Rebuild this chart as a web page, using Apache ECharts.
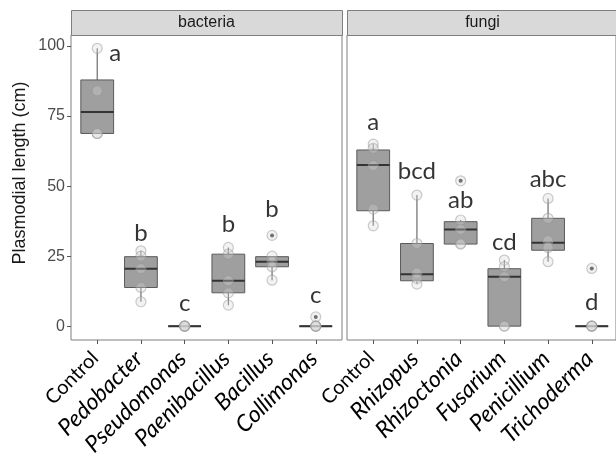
<!DOCTYPE html>
<html><head><meta charset="utf-8">
<script src="https://cdn.jsdelivr.net/npm/echarts@6/dist/echarts.min.js"></script>
<style>html,body{margin:0;padding:0;background:#fff}#c{width:616px;height:465px}</style>
</head><body><div id="c"></div>
<script>
// ---- data ----
const panelNames = ['bacteria', 'fungi'];
const bacteriaCats = ['Control','Pedobacter','Pseudomonas','Paenibacillus','Bacillus','Collimonas'];
const fungiCats = ['Control','Rhizopus','Rhizoctonia','Fusarium','Penicillium','Trichoderma'];
// box stats: [min, Q1, median, Q3, max]
const bacteriaBox = [
  [68.8, 68.8, 76.5, 87.9, 99.2],
  [8.7, 13.8, 20.5, 24.8, 26.9],
  [0, 0, 0, 0, 0],
  [7.5, 11.9, 16.2, 25.7, 28.1],
  [16.4, 21.2, 23.0, 24.8, 25.0],
  [0, 0, 0, 0, 0]
];
const fungiBox = [
  [35.8, 41.2, 57.5, 62.9, 65.0],
  [15.0, 16.2, 18.5, 29.5, 46.8],
  [29.3, 29.3, 34.5, 37.3, 37.9],
  [0, 0, 17.6, 20.5, 23.6],
  [23.0, 27.1, 29.8, 38.5, 45.6],
  [0, 0, 0, 0, 0]
];
// outliers: [category index, value]
const bacteriaOutliers = [[4, 32.4], [5, 3.3]];
const fungiOutliers = [[2, 51.9], [5, 20.6]];
// individual observations per category
const bacteriaPoints = [
  [99.2, 84.0, 68.8, 68.8],
  [26.9, 25.0, 20.5, 13.8, 8.7],
  [0, 0, 0, 0, 0],
  [28.1, 25.7, 16.2, 11.9, 7.5],
  [32.4, 25.0, 23.0, 21.2, 16.4],
  [3.3, 0, 0, 0, 0]
];
const fungiPoints = [
  [65.0, 63.5, 57.3, 41.8, 35.8],
  [46.8, 29.5, 19.0, 17.0, 15.0],
  [51.9, 37.9, 34.5, 29.5, 29.3],
  [23.6, 21.2, 17.6, 0, 0],
  [45.6, 38.5, 30.5, 28.1, 23.0],
  [20.6, 0, 0, 0, 0]
];
// significance letters and the value of their baseline
const bacteriaLetters = ['a','b','c','b','b','c'];
const bacteriaLetterY = [95.0, 30.6, 5.7, 33.7, 39.3, 8.7];
const fungiLetters = ['a','bcd','ab','cd','abc','d'];
const fungiLetterY = [70.2, 52.7, 42.4, 27.4, 50.0, 6.2];
const yTicks = [0, 25, 50, 75, 100];
const yTitle = 'Plasmodial length (cm)';

// ---- layout ----
const Y_MIN = -4.95, Y_MAX = 103.95;
const PANEL_TOP = 35, PANEL_H = 305, PANEL_W = 271;
const PANEL_LEFT = [71, 347];
const STEP = PANEL_W / 6.2;          // ggplot discrete expansion 0.6
const INNER_W = STEP * 6;
const INNER_OFF = STEP * 0.6 - STEP * 0.5;

const chart = echarts.init(document.getElementById('c'), null, {renderer: 'canvas'});

function renderBox(params, api) {
  const x = api.value(0);
  const vmin = api.value(1), q1 = api.value(2), med = api.value(3), q3 = api.value(4), vmax = api.value(5);
  const bw = api.size([1, 0])[0] * 0.75;
  const pMin = api.coord([x, vmin]), pQ1 = api.coord([x, q1]), pMed = api.coord([x, med]);
  const pQ3 = api.coord([x, q3]), pMax = api.coord([x, vmax]);
  const cx = pMed[0];
  const lineStyle = {stroke: '#6b6b6b', lineWidth: 1.2};
  return {
    type: 'group',
    children: [
      {type: 'line', shape: {x1: cx, y1: pMin[1], x2: cx, y2: pQ1[1]}, style: lineStyle},
      {type: 'line', shape: {x1: cx, y1: pQ3[1], x2: cx, y2: pMax[1]}, style: lineStyle},
      {type: 'rect', shape: {x: cx - bw / 2, y: pQ3[1], width: bw, height: pQ1[1] - pQ3[1]},
        style: {fill: '#9f9f9f', stroke: '#5a5a5a', lineWidth: 1}},
      {type: 'line', shape: {x1: cx - bw / 2, y1: pMed[1], x2: cx + bw / 2, y2: pMed[1]},
        style: {stroke: '#333333', lineWidth: 2}}
    ]
  };
}

function pointData(points) {
  const out = [];
  points.forEach((arr, i) => arr.forEach(v => out.push([i, v])));
  return out;
}

const labelFont = 'Lato, "Open Sans", sans-serif';

function panelSeries(idx, box, outliers, points, letters, letterY) {
  return [
    {
      type: 'custom', xAxisIndex: idx, yAxisIndex: idx, z: 2,
      renderItem: renderBox,
      encode: {x: 0, y: [1, 2, 3, 4, 5]},
      data: box.map((b, i) => [i].concat(b))
    },
    {
      type: 'scatter', xAxisIndex: idx, yAxisIndex: idx, z: 3,
      symbol: 'circle', symbolSize: 4, itemStyle: {color: '#111'},
      data: outliers
    },
    {
      type: 'scatter', xAxisIndex: idx, yAxisIndex: idx, z: 4,
      symbol: 'circle', symbolSize: 10,
      itemStyle: {color: 'rgba(215,215,215,0.4)', borderColor: 'rgba(150,150,150,0.6)', borderWidth: 1.2},
      data: pointData(points)
    },
    {
      type: 'scatter', xAxisIndex: idx, yAxisIndex: idx, z: 5,
      symbolSize: 0, silent: true,
      label: {
        show: true, position: 'inside', verticalAlign: 'bottom', align: 'center',
        fontFamily: labelFont, fontSize: 24, color: '#000', lineHeight: 24,
        offset: [0, 5],
        formatter: p => letters[p.dataIndex]
      },
      data: letters.map((l, i) => {
        const d = {value: [i, letterY[i]]};
        if (idx === 0 && i === 0) d.label = {offset: [18, 5]};
        return d;
      })
    }
  ];
}

function catAxis(gridIndex, cats) {
  return {
    type: 'category', gridIndex, data: cats, boundaryGap: true,
    axisLine: {show: false, onZero: false},
    axisTick: {show: true, alignWithLabel: true, length: 4, lineStyle: {color: '#555'}},
    splitLine: {show: false},
    axisLabel: {
      rotate: 45, margin: 17, interval: 0, padding: [0, 0, 6, 0],
      fontFamily: labelFont, fontSize: 20, color: '#000',
      formatter: v => v === 'Control' ? '{n|' + v + '}' : '{i|' + v + '}',
      rich: {
        n: {fontFamily: labelFont, fontSize: 20, color: '#000'},
        i: {fontStyle: 'italic', fontFamily: labelFont, fontSize: 23, color: '#000'}
      }
    }
  };
}

const hiddenY = gi => ({type: 'value', gridIndex: gi, min: Y_MIN, max: Y_MAX, show: false, splitLine: {show: false}});
const hiddenX = gi => ({type: 'value', gridIndex: gi, min: 0, max: 1, show: false, splitLine: {show: false}});

const graphics = [];
panelNames.forEach((name, i) => {
  graphics.push({
    type: 'rect', left: PANEL_LEFT[i], top: 10, z: 10,
    shape: {width: PANEL_W, height: 25},
    style: {fill: '#d9d9d9', stroke: '#7f7f7f', lineWidth: 1}
  });
  graphics.push({
    type: 'text', x: PANEL_LEFT[i] + PANEL_W / 2, y: 22.5, z: 11,
    style: {text: name, fill: '#1a1a1a', font: '16px "Liberation Sans", Arial, sans-serif',
      textAlign: 'center', textVerticalAlign: 'middle'}
  });
});
graphics.push({
  type: 'text', x: 20, y: 173, rotation: Math.PI / 2, z: 11,
  style: {text: yTitle, fill: '#1a1a1a', font: '18px "Liberation Sans", Arial, sans-serif',
    textAlign: 'center', textVerticalAlign: 'middle'}
});

chart.setOption({
  animation: false,
  backgroundColor: '#fff',
  grid: [
    {left: PANEL_LEFT[0] + INNER_OFF, top: PANEL_TOP, width: INNER_W, height: PANEL_H},
    {left: PANEL_LEFT[1] + INNER_OFF, top: PANEL_TOP, width: INNER_W, height: PANEL_H},
    {left: PANEL_LEFT[0], top: PANEL_TOP, width: PANEL_W, height: PANEL_H, show: true,
      borderColor: '#7f7f7f', borderWidth: 1, backgroundColor: '#fff', z: 0},
    {left: PANEL_LEFT[1], top: PANEL_TOP, width: PANEL_W, height: PANEL_H, show: true,
      borderColor: '#7f7f7f', borderWidth: 1, backgroundColor: '#fff', z: 0}
  ],
  xAxis: [catAxis(0, bacteriaCats), catAxis(1, fungiCats), hiddenX(2), hiddenX(3)],
  yAxis: [
    hiddenY(0), hiddenY(1),
    {
      type: 'value', gridIndex: 2, min: Y_MIN, max: Y_MAX,
      axisLine: {show: false},
      axisTick: {show: true, length: 4, lineStyle: {color: '#555'}, customValues: yTicks},
      axisLabel: {customValues: yTicks, margin: 6, fontFamily: '"Liberation Sans", Arial, sans-serif',
        fontSize: 16, color: '#4d4d4d'},
      splitLine: {show: false}
    },
    hiddenY(3)
  ],
  graphic: graphics,
  series: [].concat(
    panelSeries(0, bacteriaBox, bacteriaOutliers, bacteriaPoints, bacteriaLetters, bacteriaLetterY),
    panelSeries(1, fungiBox, fungiOutliers, fungiPoints, fungiLetters, fungiLetterY)
  )
});
</script>
</body></html>
